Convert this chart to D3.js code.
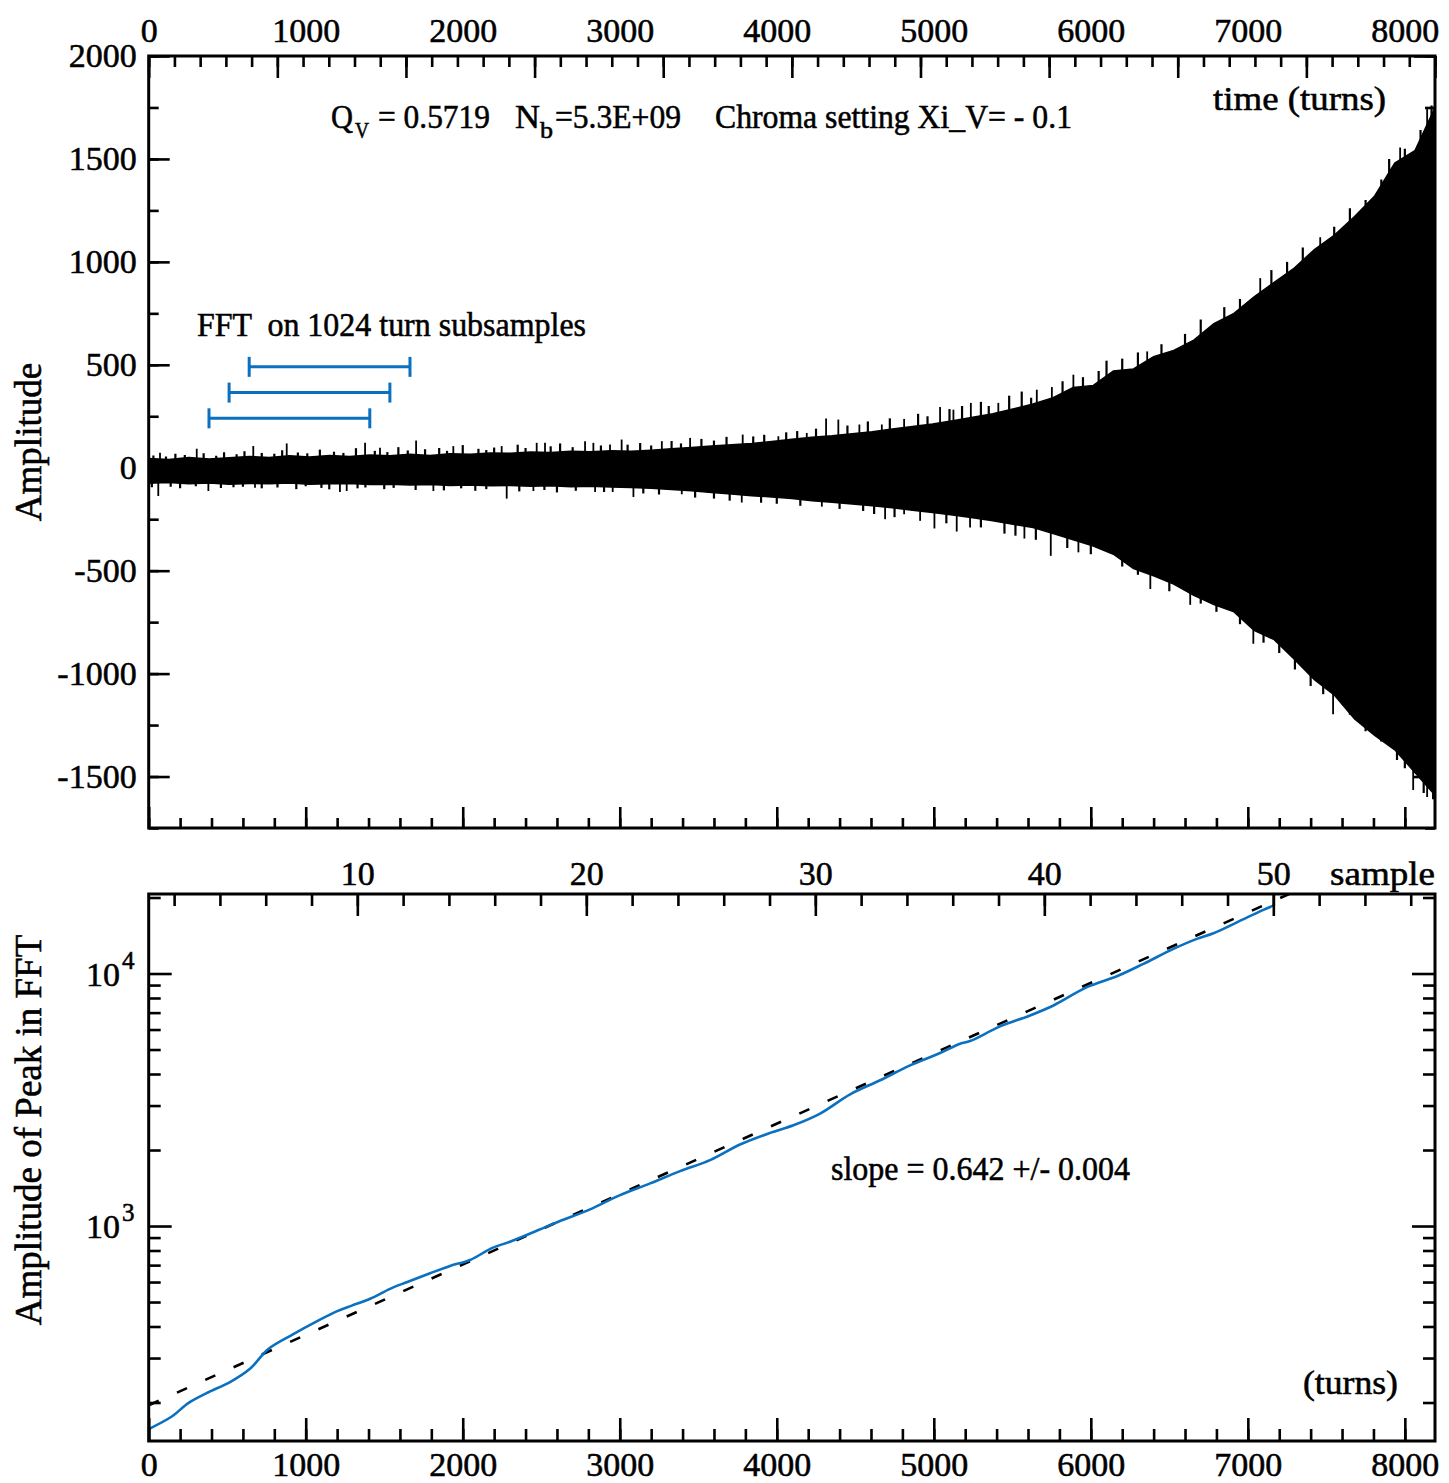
<!DOCTYPE html>
<html><head><meta charset="utf-8">
<script src="https://cdn.jsdelivr.net/npm/d3@7"></script>
<style>
html,body{margin:0;padding:0;background:#fff;}
text{font-family:"Liberation Serif","Times New Roman",serif;fill:#000;white-space:pre;stroke:#000;stroke-width:0.55px;}
</style></head>
<body>
<svg id="c" width="1449" height="1483"></svg>
<script>
// ---------------- DATA ----------------
const turnLabels = [0,1000,2000,3000,4000,5000,6000,7000,8000];
const ampLabels = [2000,1500,1000,500,0,-500,-1000,-1500];
const sampleLabels = [10,20,30,40,50];
// envelope of the turn-by-turn signal (turns, upper, lower amplitude)
const envTurns = [0,128,256,384,512,640,768,896,1024,1152,1280,1408,1536,1664,1792,1920,2048,2176,2304,2432,2560,2688,2816,2944,3072,3200,3328,3456,3584,3712,3840,3968,4096,4224,4352,4480,4608,4736,4864,4992,5120,5248,5376,5504,5632,5760,5888,6016,6144,6272,6400,6528,6656,6784,6912,7040,7168,7296,7424,7552,7680,7808,7936,8064,8192];
const envUpper = [45,40,50,42,48,55,50,58,52,60,55,62,58,65,60,68,66,72,70,76,74,80,78,82,80,85,92,98,105,112,118,128,138,148,155,165,175,188,200,212,228,245,262,285,310,340,390,400,470,480,540,570,620,700,750,830,900,970,1060,1130,1220,1320,1480,1540,1750];
const envLower = [-75,-72,-78,-74,-80,-76,-78,-74,-80,-78,-76,-82,-80,-84,-82,-86,-84,-88,-86,-90,-88,-92,-90,-94,-96,-100,-106,-112,-120,-128,-136,-142,-150,-160,-168,-176,-185,-195,-206,-218,-230,-243,-258,-275,-290,-320,-350,-380,-420,-490,-525,-565,-620,-665,-700,-790,-835,-930,-1030,-1105,-1220,-1300,-1370,-1480,-1590];
// large isolated excursions (turn, amplitude)
const spikeTurns = [72,306,666,879,1378,1473,1703,1940,2248,2471,2524,2779,2832,2938,3012,3268,3448,3783,4010,4191,4314,4392,4526,4669,4811,5040,5125,5236,5411,5656,5752,5889,6359,7079,7461,7970,8142,
  61,380,677,1218,1261,1813,2280,2450,2843,2955,3087,3395,3777,4287,4690,4811,4913,5004,5146,5231,5577,5745,5921,6379,6633,7035,7543,8053,8142];
const spikeAmps = [73,92,105,118,121,97,132,105,105,121,121,129,121,113,137,129,145,161,153,169,239,234,210,210,237,295,282,315,315,379,392,452,565,921,1120,1555,1744,
  -137,-113,-97,-118,-113,-113,-150,-113,-118,-118,-142,-129,-169,-189,-250,-226,-258,-295,-310,-290,-344,-428,-411,-589,-666,-855,-1198,-1566,-1600];
// smaller edge excursions (turn, amplitude)
const edgeTurns = [30,110,170,230,350,430,480,560,610,720,800,850,950,1010,1090,1180,1240,1320,1440,1520,1590,1650,1760,1850,1900,2000,2100,2150,2200,2350,2400,2560,2620,2700,2880,3050,3130,3200,3330,3390,3520,3600,3680,3850,3920,4060,4130,4250,4450,4580,4720,4900,4960,5100,5180,5300,5350,5480,5560,5620,5820,5950,6050,6100,6200,6300,6450,6600,6700,6850,6950,7150,7250,7350,7550,7650,7750,7850,7900,8000,8100,8170,
  20,140,200,300,460,540,600,720,820,940,1000,1100,1150,1330,1380,1500,1560,1700,1880,1990,2080,2150,2360,2520,2600,2720,2900,3150,3250,3480,3600,3700,3900,4000,4150,4400,4550,4620,4750,5080,5300,5450,5520,5650,5850,6000,6200,6300,6500,6700,6800,6950,7100,7200,7300,7400,7480,7650,7750,7850,7950,8000,8120,8180];
const edgeAmps = [60,55,68,62,70,58,75,66,80,72,68,85,74,70,88,78,72,95,82,76,100,84,90,96,82,110,92,86,98,112,96,104,118,100,108,112,120,108,130,118,140,132,150,152,160,172,178,190,205,225,240,262,250,285,300,320,300,350,370,340,420,440,470,520,530,560,600,650,720,780,820,960,1000,1070,1170,1260,1300,1400,1500,1550,1640,1760,
  -95,-92,-100,-90,-98,-95,-92,-100,-96,-104,-90,-98,-105,-100,-96,-104,-98,-108,-110,-100,-112,-104,-115,-108,-120,-112,-118,-125,-130,-145,-150,-160,-170,-175,-185,-200,-210,-225,-240,-270,-290,-320,-330,-350,-390,-420,-480,-520,-600,-660,-700,-760,-850,-900,-980,-1060,-1100,-1200,-1280,-1330,-1420,-1460,-1580,-1610];
// FFT windows (start turn, drawn at amplitude), window length in turns
const fftStarts = [640,512,384];
const fftLevels = [490,365,240];
const fftLength = 1024;
// bottom panel: amplitude of FFT peak vs turns
const peakTurns = [0,147,252,369,518,645,762,921,1070,1197,1293,1410,1537,1643,1792,1919,2047,2185,2301,2482,2609,2811,3002,3193,3384,3575,3766,3957,4106,4276,4467,4658,4849,5040,5167,5231,5422,5613,5762,5975,6166,6335,6526,6675,6781,6930,7099,7163];
const peakAmps = [157,176,199,218,241,272,326,373,419,459,484,515,564,599,650,695,734,817,867,964,1040,1164,1326,1475,1650,1824,2103,2338,2507,2789,3323,3777,4329,4842,5274,5401,6173,6823,7472,8829,9757,10925,12520,13717,14432,15951,17860,18570];
// exponential fit (slope 0.642 per 1000 turns): end points
const fitTurns = [0,8192];
const fitAmps = [195,37500];
const logMajor = [1000,10000];
const logMinor = [200,300,400,500,600,700,800,900,2000,3000,4000,5000,6000,7000,8000,9000,20000];

// ---------------- SCALES ----------------
const svg = d3.select("#c");
const L = 148.7, R = 1435;
const xT = d3.scaleLinear().domain([0,8192]).range([L,R]);
const xDiv = d3.scaleLinear().domain([0,50]).range([L,R]);
const yA = d3.scaleLinear().domain([-1750,2000]).range([828,56]);
const xS = d3.scaleLinear().domain([0.89,57.06]).range([L,R]);
const yL = d3.scaleLog().domain([140.8,20650]).range([1441,894]);
const FS = 34;
const BLUE = "#0a70bf";
const fmt = d => String(d);

function styleAxis(g){
  g.select(".domain").remove();
  g.selectAll(".tick line").attr("stroke","#000").attr("stroke-width",2.6);
  g.selectAll(".tick text").attr("font-size",FS).attr("font-family","Liberation Serif").attr("fill","#000");
}
function ax(gen, tr){ const g = svg.append("g").attr("transform",tr).call(gen); styleAxis(g); return g; }

// ---------------- TOP PANEL ----------------
const defs = svg.append("defs");
defs.append("clipPath").attr("id","clipTop").append("rect").attr("x",L).attr("y",56).attr("width",R-L).attr("height",828-56);
defs.append("clipPath").attr("id","clipBot").append("rect").attr("x",L).attr("y",894).attr("width",R-L).attr("height",1441-894);

const env = envTurns.map((t,i)=>({t, u:envUpper[i], l:envLower[i]}));
const gSig = svg.append("g").attr("clip-path","url(#clipTop)");
gSig.append("path").datum(env)
  .attr("d", d3.area().x(d=>xT(d.t)).y0(d=>yA(d.l)).y1(d=>yA(d.u)))
  .attr("fill","#000").attr("stroke","#000").attr("stroke-width",1.5);
gSig.selectAll("line.ed").data(edgeTurns.map((t,i)=>({t,a:edgeAmps[i]}))).enter().append("line")
  .attr("x1",d=>xT(d.t)).attr("x2",d=>xT(d.t))
  .attr("y1",yA(0)).attr("y2",d=>yA(d.a))
  .attr("stroke","#000").attr("stroke-width",2.2);
gSig.selectAll("line.sp").data(spikeTurns.map((t,i)=>({t,a:spikeAmps[i]}))).enter().append("line")
  .attr("x1",d=>xT(d.t)).attr("x2",d=>xT(d.t))
  .attr("y1",yA(0)).attr("y2",d=>yA(d.a))
  .attr("stroke","#000").attr("stroke-width",1.8);

// FFT windows
const fft = fftStarts.map((s,i)=>({s, e:s+fftLength, a:fftLevels[i]}));
const gF = svg.append("g").attr("stroke",BLUE).attr("stroke-width",3);
gF.selectAll("line.h").data(fft).enter().append("line")
  .attr("x1",d=>xT(d.s)).attr("x2",d=>xT(d.e)).attr("y1",d=>yA(d.a)).attr("y2",d=>yA(d.a));
gF.selectAll("line.a").data(fft).enter().append("line")
  .attr("x1",d=>xT(d.s)).attr("x2",d=>xT(d.s)).attr("y1",d=>yA(d.a)-10).attr("y2",d=>yA(d.a)+10);
gF.selectAll("line.b").data(fft).enter().append("line")
  .attr("x1",d=>xT(d.e)).attr("x2",d=>xT(d.e)).attr("y1",d=>yA(d.a)-10).attr("y2",d=>yA(d.a)+10);

// axes top panel
ax(d3.axisTop(xDiv).tickValues(d3.range(0,51)).tickSize(-11).tickFormat(""), "translate(0,56)");
ax(d3.axisTop(xDiv).tickValues(d3.range(0,51,5)).tickSize(-22).tickFormat(""), "translate(0,56)");
ax(d3.axisTop(xT).tickValues(turnLabels).tickSize(0).tickPadding(14).tickFormat(fmt), "translate(0,56)");
ax(d3.axisBottom(xT).tickValues(d3.range(0,8193,200)).tickSize(-10).tickFormat(""), "translate(0,828)");
ax(d3.axisBottom(xT).tickValues(d3.range(0,8001,1000)).tickSize(-21).tickFormat(""), "translate(0,828)");
ax(d3.axisLeft(yA).tickValues(d3.range(-1750,2001,250)).tickSize(-10).tickFormat(""), `translate(${L},0)`);
ax(d3.axisLeft(yA).tickValues(ampLabels).tickSize(-21).tickPadding(12).tickFormat(fmt), `translate(${L},0)`);
ax(d3.axisRight(yA).tickValues(d3.range(-1750,2001,250)).tickSize(-10).tickFormat(""), `translate(${R},0)`);
ax(d3.axisRight(yA).tickValues(ampLabels).tickSize(-21).tickFormat(""), `translate(${R},0)`);
svg.append("rect").attr("x",L).attr("y",56).attr("width",R-L).attr("height",828-56)
  .attr("fill","none").attr("stroke","#000").attr("stroke-width",3);

// ---------------- BOTTOM PANEL ----------------
const gB = svg.append("g").attr("clip-path","url(#clipBot)");
gB.append("path").datum(fitTurns.map((t,i)=>({t,a:fitAmps[i]})))
  .attr("d", d3.line().x(d=>xT(d.t)).y(d=>yL(d.a)))
  .attr("fill","none").attr("stroke","#000").attr("stroke-width",2.6).attr("stroke-dasharray","11,20");
gB.append("path").datum(peakTurns.map((t,i)=>({t,a:peakAmps[i]})))
  .attr("d", d3.line().curve(d3.curveCatmullRom.alpha(0.5)).x(d=>xT(d.t)).y(d=>yL(d.a)))
  .attr("fill","none").attr("stroke",BLUE).attr("stroke-width",2.6);

ax(d3.axisTop(xS).tickValues(d3.range(2,57,2)).tickSize(-12).tickFormat(""), "translate(0,894)");
ax(d3.axisTop(xS).tickValues(sampleLabels).tickSize(-22).tickPadding(9).tickFormat(fmt), "translate(0,894)");
ax(d3.axisBottom(xT).tickValues(d3.range(0,8193,200)).tickSize(-12).tickFormat(""), "translate(0,1441)");
ax(d3.axisBottom(xT).tickValues(turnLabels).tickSize(-23).tickPadding(11).tickFormat(fmt), "translate(0,1441)");
ax(d3.axisLeft(yL).tickValues(logMinor).tickSize(-12).tickFormat(""), `translate(${L},0)`);
ax(d3.axisLeft(yL).tickValues(logMajor).tickSize(-23).tickFormat(""), `translate(${L},0)`);
ax(d3.axisRight(yL).tickValues(logMinor).tickSize(-12).tickFormat(""), `translate(${R},0)`);
ax(d3.axisRight(yL).tickValues(logMajor).tickSize(-23).tickFormat(""), `translate(${R},0)`);
svg.append("rect").attr("x",L).attr("y",894).attr("width",R-L).attr("height",1441-894)
  .attr("fill","none").attr("stroke","#000").attr("stroke-width",3);

// log labels 10^n
logMajor.forEach(v=>{
  svg.append("text").attr("x",120).attr("y",yL(v)+12).attr("text-anchor","end").attr("font-size",FS).text("10");
  svg.append("text").attr("x",122).attr("y",yL(v)-5).attr("font-size",25).text(String(Math.round(Math.log10(v))));
});

// ---------------- TEXT ----------------
function txt(x,y,s,size,len){
  const t = svg.append("text").attr("x",x).attr("y",y).attr("font-size",size).text(s);
  if(len) t.attr("textLength",len).attr("lengthAdjust","spacingAndGlyphs");
  return t;
}
txt(331,128,"Q",FS,22);
txt(355,138,"V",24,14);
txt(378,128,"= 0.5719",FS,112);
txt(515,128,"N",FS,25);
txt(540,138,"b",24,13);
txt(555,128,"=5.3E+09",FS,126);
txt(715,128,"Chroma setting Xi_V= - 0.1",FS,357);
txt(1213,110,"time (turns)",FS,173);
txt(197,336,"FFT  on 1024 turn subsamples",FS,389);
txt(831,1180,"slope = 0.642 +/- 0.004",FS,299);
txt(1303,1394,"(turns)",FS,95);
txt(1330,885,"sample",FS,105);

svg.append("text").attr("transform","translate(41,442) rotate(-90)").attr("text-anchor","middle")
  .attr("font-size",37).text("Amplitude");
svg.append("text").attr("transform","translate(41,1130) rotate(-90)").attr("text-anchor","middle")
  .attr("font-size",37).text("Amplitude of Peak in FFT");
</script>
</body></html>
